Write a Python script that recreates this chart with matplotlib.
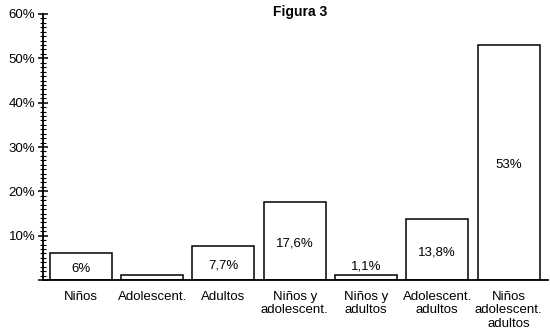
import numpy as np
import matplotlib
matplotlib.use("Agg")
import matplotlib.pyplot as plt
from matplotlib.ticker import MultipleLocator, FuncFormatter

plt.rcParams["font.family"] = ["Liberation Sans", "DejaVu Sans"]

# Distribución por grupos de edad
grupos = ["Niños", "Adolescent.", "Adultos", "Niños y\nadolescent.",
          "Niños y\nadultos", "Adolescent.\nadultos", "Niños\nadolescent.\nadultos"]
porcentajes = [6.0, 1.2, 7.7, 17.6, 1.1, 13.8, 53.0]
etiquetas = ["6%", None, "7,7%", "17,6%", "1,1%", "13,8%", "53%"]

fig = plt.figure(figsize=(5.5, 3.36), dpi=100)
ax = fig.add_axes([43 / 550, 56 / 336, 505 / 550, 266 / 336])

x = np.arange(len(grupos))
bars = ax.bar(x, porcentajes, width=0.87, color="white", edgecolor="black", linewidth=1.1)

for b, val, txt in zip(bars, porcentajes, etiquetas):
    if txt is None:
        continue
    cx = b.get_x() + b.get_width() / 2
    if val < 3:
        ax.text(cx, val + 0.6, txt, ha="center", va="bottom", fontsize=9.5)
    else:
        ax.text(cx, val / 2 - 0.6, txt, ha="center", va="center", fontsize=9.5)

ax.set_xlim(-0.533, len(grupos) - 0.446)
ax.set_ylim(0, 60)
ax.yaxis.set_major_locator(MultipleLocator(10))
ax.yaxis.set_minor_locator(MultipleLocator(1))
ax.yaxis.set_major_formatter(FuncFormatter(lambda v, p: "" if v == 0 else f"{v:.0f}%"))
ax.tick_params(axis="y", which="major", direction="inout", length=7, width=1.1, labelsize=9.5, pad=2)
ax.tick_params(axis="y", which="minor", direction="inout", length=5, width=0.8)

ax.set_xticks(x)
ax.set_xticklabels(grupos, fontsize=9.5, linespacing=1.15)
ax.tick_params(axis="x", length=0, pad=8)

for s in ("top", "right"):
    ax.spines[s].set_visible(False)
ax.spines["left"].set_linewidth(1.3)
ax.spines["bottom"].set_linewidth(1.3)

fig.text(300 / 550, 1 - 12 / 336, "Figura 3", ha="center", va="center",
         fontsize=10, fontweight="bold")

fig.savefig("out.png", dpi=100)
